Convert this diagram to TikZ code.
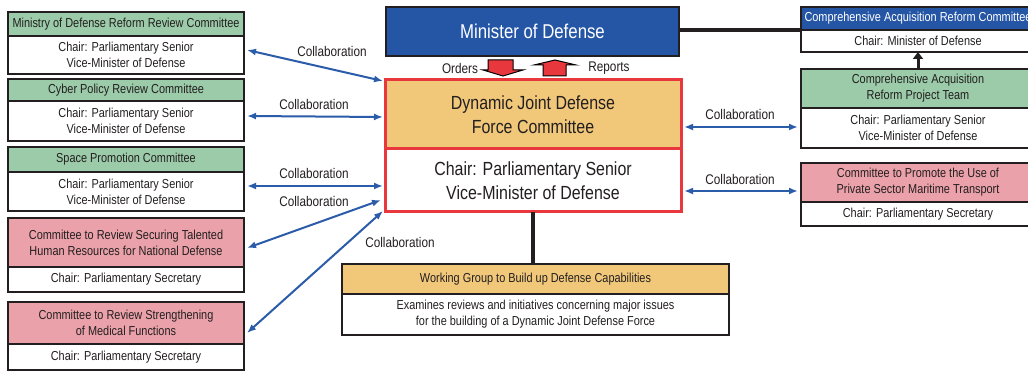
\documentclass[tikz,border=0pt]{standalone}
\usepackage{fontspec}
\setmainfont{Liberation Sans}[FakeStretch=0.84]
\usetikzlibrary{arrows.meta}
\definecolor{txt}{HTML}{231F20}
\definecolor{boxline}{HTML}{231F20}
\definecolor{mblue}{HTML}{2556A6}
\definecolor{mgreen}{HTML}{9BCBA8}
\definecolor{mpink}{HTML}{EAA1A9}
\definecolor{morange}{HTML}{F1C87A}
\definecolor{mred}{HTML}{E8383D}
\definecolor{abl}{HTML}{2B5CAA}
\tikzset{
  base/.style={draw=boxline, line width=1.5pt, anchor=north west, inner sep=0pt, outer sep=0pt, align=center, text=txt, font=\fontsize{13}{16}\selectfont},
  hdrG/.style={base, fill=mgreen},
  hdrP/.style={base, fill=mpink},
  hdrO/.style={base, fill=morange},
  hdrB/.style={base, fill=mblue, text=white},
  bodyW/.style={base, fill=white},
  djbox/.style={base, draw=mred, line width=3pt, minimum width=296pt, font=\fontsize{19}{24}\selectfont},
  collab/.style={draw=abl, line width=2pt, {Latex[length=9pt,width=7pt]}-{Latex[length=9pt,width=7pt]}},
  lbl/.style={text=txt, font=\fontsize{14}{16}\selectfont, inner sep=0pt},
  blk/.style={draw=boxline, line width=4pt},
  blkarrow/.style={draw=boxline, line width=3pt, -{Triangle[length=7pt,width=10pt]}},
  blockarrow/.style={draw=black, line width=1pt, fill=mred, line join=miter}
}
\begin{document}
\begin{tikzpicture}[x=1pt,y=-1pt]
\useasboundingbox[fill=white] (0,0) rectangle (1028,371);
% left boxes
\begin{scope}[every node/.append style={minimum width=236pt}]
\node[hdrG, minimum height=24pt] (l1h) at (8,12) {Ministry of Defense Reform Review Committee};
\node[bodyW, minimum height=38pt] (l1b) at (8,36) {Chair: Parliamentary Senior\\Vice-Minister of Defense};
\node[hdrG, minimum height=22pt] (l2h) at (8,79) {Cyber Policy Review Committee};
\node[bodyW, minimum height=40pt] (l2b) at (8,101) {Chair: Parliamentary Senior\\Vice-Minister of Defense};
\node[hdrG, minimum height=25pt] (l3h) at (8,147) {Space Promotion Committee};
\node[bodyW, minimum height=39pt] (l3b) at (8,172) {Chair: Parliamentary Senior\\Vice-Minister of Defense};
\node[hdrP, minimum height=49pt] (l4h) at (8,218) {Committee to Review Securing Talented\\Human Resources for National Defense};
\node[bodyW, minimum height=25pt] (l4b) at (8,267) {Chair: Parliamentary Secretary};
\node[hdrP, minimum height=42pt] (l5h) at (8,302) {Committee to Review Strengthening\\of Medical Functions};
\node[bodyW, minimum height=26pt] (l5b) at (8,344) {Chair: Parliamentary Secretary};
\end{scope}
% right boxes
\begin{scope}[every node/.append style={minimum width=234pt}]
\node[hdrB, minimum height=23pt] (r1h) at (801,7) {Comprehensive Acquisition Reform Committee};
\node[bodyW, minimum height=22pt] (r1b) at (801,30) {Chair: Minister of Defense};
\node[hdrG, minimum height=39pt] (r2h) at (801,69) {Comprehensive Acquisition\\Reform Project Team};
\node[bodyW, minimum height=40pt] (r2b) at (801,108) {Chair: Parliamentary Senior\\Vice-Minister of Defense};
\node[hdrP, minimum height=39pt] (r3h) at (801,163) {Committee to Promote the Use of\\Private Sector Maritime Transport};
\node[bodyW, minimum height=24pt] (r3b) at (801,202) {Chair: Parliamentary Secretary};
\end{scope}
% minister
\node[hdrB, minimum width=293pt, minimum height=49pt, font=\fontsize{20}{24}\selectfont] (mod) at (386,7) {Minister of Defense};
% DJDF
\node[djbox, fill=morange, minimum height=69pt] (djh) at (385,80) {Dynamic Joint Defense\\Force Committee};
\node[djbox, fill=white, minimum height=63pt] (djb) at (385,149) {Chair: Parliamentary Senior\\Vice-Minister of Defense};
% working group
\node[hdrO, minimum width=387pt, minimum height=30pt] (wgh) at (342,264) {Working Group to Build up Defense Capabilities};
\node[bodyW, minimum width=387pt, minimum height=41pt] (wgb) at (342,294) {Examines reviews and initiatives concerning major issues\\for the building of a Dynamic Joint Defense Force};
% black connectors
\draw[blk] (mod.east |- r1b.north west) -- (r1b.north west);
\draw[blkarrow] (r2h.north) -- (r1b.south);
\draw[blk] (djb.south) -- (wgh.north -| djb.south);
% orders / reports
\draw[blockarrow] (488,60) -- (513,60) -- (513,70) -- (523,70) -- (503,76) -- (483,70) -- (488,70) -- cycle;
\draw[blockarrow] (543,76) -- (543,65) -- (534,65) -- (555,60) -- (576,65) -- (566,65) -- (566,76) -- cycle;
\node[lbl] (ord) at (460,68) {Orders};
\node[lbl] (rep) at (609,68) {Reports};
% collaboration arrows
\draw[collab] ([shift={(3,-5)}]l1b.east) -- ([shift={(-2,1)}]djh.north west);
\draw[collab] ([shift={(3,-5)}]l2b.east) -- ([shift={(-2,2.5)}]djh.west);
\draw[collab] ([shift={(3,-5.5)}]l3b.east) -- ([shift={(-2,5.5)}]djb.west);
\draw[collab] ([shift={(3,5.5)}]l4h.east) -- ([shift={(-4,19.5)}]djb.west);
\draw[collab] ([shift={(3,10)}]l5h.east) -- ([shift={(-2,-1)}]djb.south west);
\draw[collab] ([shift={(3,12.5)}]djh.east) -- ([shift={(-3,-1)}]r2b.west);
\draw[collab] ([shift={(3,10.5)}]djb.east) -- ([shift={(-3,8.5)}]r3h.west);
\node[lbl] (c1) at (332,51) {Collaboration};
\node[lbl] (c2) at (314,104) {Collaboration};
\node[lbl] (c3) at (314,173) {Collaboration};
\node[lbl] (c4) at (314,201) {Collaboration};
\node[lbl] (c5) at (400,242) {Collaboration};
\node[lbl] (c6) at (740,114) {Collaboration};
\node[lbl] (c7) at (740,179) {Collaboration};
\end{tikzpicture}
\end{document}
